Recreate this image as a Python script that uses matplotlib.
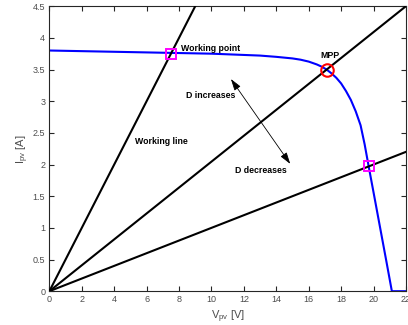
import numpy as np
import matplotlib
matplotlib.use("Agg")
import matplotlib.pyplot as plt

plt.rcParams["font.family"] = ["Liberation Sans", "DejaVu Sans"]
plt.rcParams["mathtext.fontset"] = "custom"
plt.rcParams["mathtext.rm"] = "Liberation Sans"

# PV module I-V characteristic
v_pv = [0, 2, 4, 6, 8, 10, 12, 13, 14, 15, 15.5, 16, 16.5, 16.8, 17.1, 17.4,
        17.7, 18.0, 18.3, 18.6, 18.9, 19.2, 19.45, 19.7, 20.0, 20.4, 20.8,
        21.13, 22]
i_pv = [3.80, 3.79, 3.78, 3.77, 3.76, 3.75, 3.73, 3.72, 3.70, 3.675, 3.655,
        3.625, 3.58, 3.545, 3.50, 3.44, 3.37, 3.28, 3.16, 3.02, 2.84, 2.62,
        2.32, 1.97, 1.56, 1.01, 0.46, 0.0, 0.0]

# load lines I = V / R through the origin
load_slopes = [0.5, 4.5 / 22, 0.1]

working_point = (7.5, 3.75)
mpp = (17.1, 3.5)
low_point = (19.7, 1.97)

x_ticks = np.arange(0, 23, 2)
y_ticks = np.arange(0, 4.6, 0.5)

fig = plt.figure(figsize=(4.08, 3.25), dpi=100)
ax = fig.add_axes([0.121, 0.104, 0.874, 0.877])

ax.plot(v_pv, i_pv, color="blue", linewidth=1.5, zorder=2)

v_line = np.array([0, 22])
for k in load_slopes:
    ax.plot(v_line, k * v_line, color="black", linewidth=1.5, zorder=3)

ax.plot(*working_point, marker="s", markersize=7, markerfacecolor="none",
        markeredgecolor="magenta", markeredgewidth=1.4, zorder=4)
ax.plot(*low_point, marker="s", markersize=7, markerfacecolor="none",
        markeredgecolor="magenta", markeredgewidth=1.4, zorder=4)
ax.plot(*mpp, marker="o", markersize=9, markerfacecolor="none",
        markeredgecolor="red", markeredgewidth=1.5, zorder=4)

txt = dict(fontsize=6.3, fontweight="bold", color="black", va="center")
ax.text(8.15, 3.83, "Working point", **txt)
ax.text(16.7, 3.72, "MPP", **txt)
ax.text(8.45, 3.09, "D increases", **txt)
ax.text(5.3, 2.36, "Working line", **txt)
ax.text(11.45, 1.905, "D decreases", **txt)

ax.annotate("", xy=(11.2, 3.35), xytext=(14.86, 2.01),
            arrowprops=dict(arrowstyle="<|-|>,head_length=0.7,head_width=0.22",
                            color="black", lw=0.6, shrinkA=0, shrinkB=0))

ax.set_xlim(0, 22)
ax.set_ylim(0, 4.5)
ax.set_xticks(x_ticks)
ax.set_yticks(y_ticks)
ax.set_xticklabels([f"{t:g}" for t in x_ticks])
ax.set_yticklabels([f"{t:g}" for t in y_ticks])
ax.tick_params(direction="in", length=3.5, width=0.8, top=True, right=True,
               labelsize=6.5, labelcolor="#4d4d4d", color="#262626", pad=3)
for sp in ax.spines.values():
    sp.set_color("#262626")
    sp.set_linewidth(0.8)

ax.set_xlabel(r"V$_{\rm pv}$ [V]", fontsize=8, color="#4d4d4d", labelpad=3)
ax.set_ylabel(r"I$_{\rm pv}$ [A]", fontsize=8, color="#4d4d4d", labelpad=1)

fig.savefig("out.png", dpi=100)
